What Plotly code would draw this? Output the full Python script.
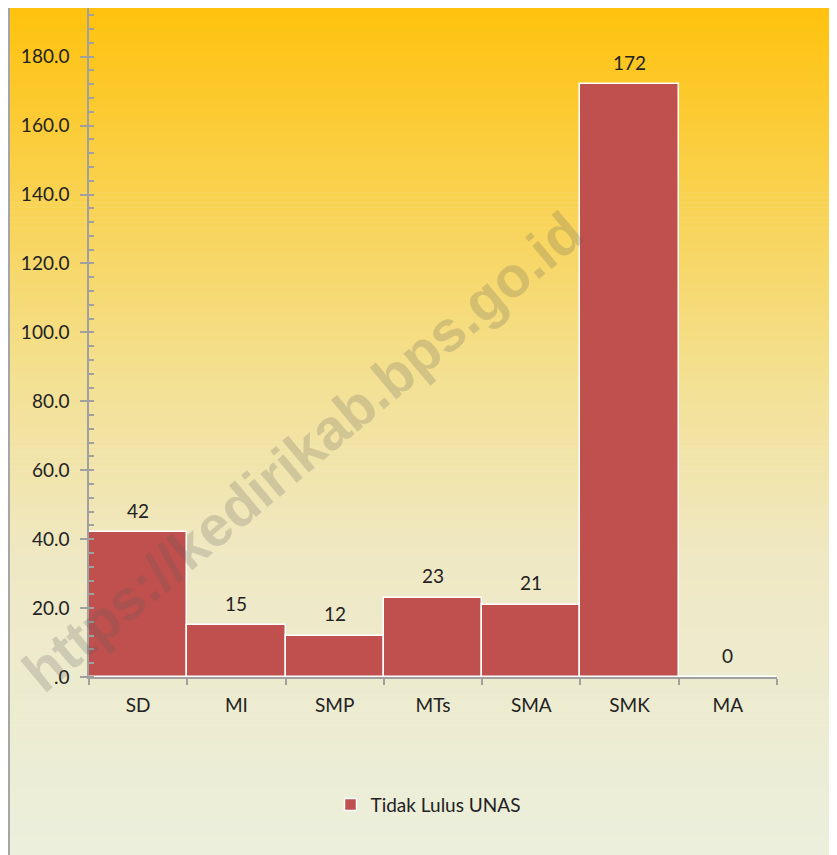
import plotly.graph_objects as go

categories = ["SD", "MI", "SMP", "MTs", "SMA", "SMK", "MA"]
values = [42, 15, 12, 23, 21, 172, 0]
series_name = "Tidak Lulus UNAS"
y_tickvals = [0, 20, 40, 60, 80, 100, 120, 140, 160, 180]
y_ticktext = [".0", "20.0", "40.0", "60.0", "80.0", "100.0", "120.0", "140.0", "160.0", "180.0"]
watermark = "https://kedirikab.bps.go.id"

# page has an 8px body margin, so figure coords = page coords - 8
OFF = 8
W, H = 837 - OFF, 855 - OFF
L = 89 - OFF
R = W - (777 - OFF)
T = 0
zero_px = 677.3 - OFF
B = H - zero_px
plot_h = H - T - B
plot_w = W - L - R
ymax = (677.3 - OFF) / 3.448  # top of the axis at the figure top

def py(page_y):  # page pixel y -> paper y
    return (zero_px - (page_y - OFF)) / plot_h

def pxx(page_x):
    return ((page_x - OFF) - L) / plot_w

stops = [(0.0, (255, 194, 14)), (0.22, (249, 210, 80)), (0.45, (243, 225, 150)),
         (0.65, (239, 232, 196)), (1.0, (235, 239, 220))]

def grad(t):
    for i in range(len(stops) - 1):
        t0, c0 = stops[i]
        t1, c1 = stops[i + 1]
        if t0 <= t <= t1:
            f = (t - t0) / (t1 - t0)
            return "rgb(%d,%d,%d)" % tuple(round(c0[k] + (c1[k] - c0[k]) * f) for k in range(3))
    return "rgb(%d,%d,%d)" % stops[-1][1]

shapes = []
top_px, bot_px = OFF, 855
n = 170
step = (bot_px - top_px) / n
for i in range(n):
    y0 = top_px + i * step
    y1 = y0 + step + 0.6
    shapes.append(dict(type="rect", xref="paper", yref="paper", layer="below",
                       x0=pxx(OFF), x1=pxx(860), y0=py(y1), y1=py(y0),
                       fillcolor=grad(i / (n - 1)), line=dict(width=0)))
shapes.append(dict(type="line", xref="paper", yref="paper", layer="above",
                   x0=pxx(OFF + 1), x1=pxx(OFF + 1), y0=py(860), y1=py(OFF),
                   line=dict(color="#A6A6A6", width=2)))

fig = go.Figure()
fig.add_trace(go.Bar(x=categories, y=values, name=series_name,
                     marker=dict(color="#C0504D", line=dict(color="white", width=1.5)),
                     showlegend=True))

annotations = [dict(x=c, y=v, text=str(v), showarrow=False, yshift=22,
                    font=dict(family="Lato", size=19, color="#222222"))
               for c, v in zip(categories, values)]
annotations.append(dict(x=pxx(302), y=py(452), xref="paper", yref="paper", text=watermark,
                        showarrow=False, textangle=-40,
                        font=dict(family="Liberation Sans", size=57, color="rgba(90,90,90,0.22)",
                                  weight="bold"),
                        xanchor="center", yanchor="middle"))

fig.update_layout(
    width=W, height=H,
    margin=dict(l=L, r=R, t=T, b=B, pad=0),
    paper_bgcolor="white", plot_bgcolor="rgba(0,0,0,0)",
    bargap=0,
    font=dict(family="Lato", size=19, color="#222222"),
    shapes=shapes, annotations=annotations,
    legend=dict(orientation="h", x=0.5 - 5 / plot_w, xanchor="center", y=py(805), yanchor="middle",
                bgcolor="rgba(0,0,0,0)", font=dict(family="Lato", size=19, color="#222222")),
    xaxis=dict(showline=True, linecolor="#A0A0A0", linewidth=1.5, ticks="outside",
               tickson="boundaries", ticklen=6, tickcolor="#A0A0A0", tickwidth=1.5,
               showgrid=False, ticklabelstandoff=10),
    yaxis=dict(range=[0, ymax], showline=True, linecolor="#A0A0A0", linewidth=1.5,
               tickvals=y_tickvals, ticktext=y_ticktext, ticks="outside", ticklen=7,
               tickcolor="#A0A0A0", tickwidth=1.5, showgrid=False, zeroline=False,
               ticklabelstandoff=7,
               minor=dict(dtick=4, ticks="inside", ticklen=5, tickcolor="#A0A0A0",
                          tickwidth=1.5, showgrid=False)),
)

fig.write_html("out.html")
